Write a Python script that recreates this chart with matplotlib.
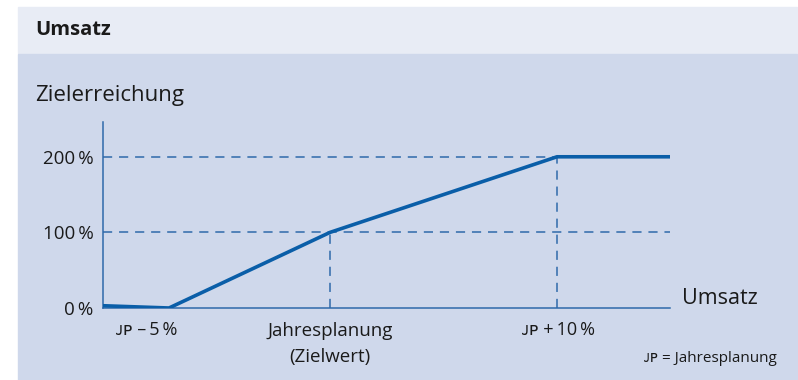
import matplotlib.pyplot as plt
from matplotlib.patches import Rectangle
import matplotlib.transforms as mtransforms

plt.rcParams['font.family'] = ['Open Sans', 'DejaVu Sans']

# Umsatz position (arbitrary units along the axis) and target achievement in %
umsatz = [0.0, 0.66, 2.27, 4.54, 5.67]
zielerreichung = [3, 0, 100, 200, 200]

ref_levels = [100, 200]
ref_x = [2.27, 4.54]
ytick_vals = [0, 100, 200]
ytick_labels = ['0\u2009%', '100\u2009%', '200\u2009%']
xtick_labels = ['\u1d0a\u1d18 \u2013\u20095\u2009%', 'Jahresplanung\n(Zielwert)',
                '\u1d0a\u1d18 +\u200910\u2009%']

line_col = '#0a5ea8'
dash_col = '#2f6aaa'
text_col = '#1a1a1a'

fig = plt.figure(figsize=(7.98, 3.8), dpi=100)
W, H = 798, 380

def fx(px):
    return px / W

def fy(py):
    return 1 - py / H

# background panels
fig.patches.append(Rectangle((fx(18), fy(53)), fx(797) - fx(18), fy(7) - fy(53),
                             transform=fig.transFigure, color='#e8ecf5', zorder=-10))
fig.patches.append(Rectangle((fx(18), 0), fx(797) - fx(18), fy(54),
                             transform=fig.transFigure, color='#cfd8eb', zorder=-10))

fig.text(fx(35), fy(30), 'Umsatz', fontsize=14.5, fontweight='bold', va='center', color=text_col)
fig.text(fx(35), fy(96), 'Zielerreichung', fontsize=16, va='center', color=text_col)

ax = fig.add_axes([fx(103), fy(308), fx(670) - fx(103), fy(122) - fy(308)])
ax.set_facecolor('none')
ax.set_xlim(0, 5.67)
ax.set_ylim(0, 246)

for lvl in ref_levels:
    ax.axhline(lvl, color=dash_col, lw=1.1, dashes=(6, 4.5), zorder=1)
for xv, lvl in zip(ref_x, ref_levels):
    ax.plot([xv, xv], [0, lvl], color=dash_col, lw=1.1, dashes=(6, 4.5), zorder=1)

ax.plot(umsatz, zielerreichung, color=line_col, lw=2.6, solid_capstyle='butt', zorder=3)

for s in ['top', 'right']:
    ax.spines[s].set_visible(False)
for s in ['left', 'bottom']:
    ax.spines[s].set_color(dash_col)
    ax.spines[s].set_linewidth(1.1)

ax.set_xticks([])
ax.set_yticks(ytick_vals)
ax.set_yticklabels(ytick_labels, fontsize=13.5, color=text_col)
ax.tick_params(axis='y', length=0, pad=7)

trans = mtransforms.blended_transform_factory(ax.transData, fig.transFigure)
ax.text(0.74, fy(330), xtick_labels[0], transform=trans, ha='right', va='center',
        fontsize=13, color=text_col)
ax.text(2.27, fy(344), xtick_labels[1], transform=trans, ha='center', va='center',
        fontsize=13.5, color=text_col, linespacing=1.6)
ax.text(4.55, fy(330), xtick_labels[2], transform=trans, ha='center', va='center',
        fontsize=13, color=text_col)

fig.text(fx(682), fy(299), 'Umsatz', fontsize=15.5, va='center', color=text_col)
fig.text(fx(777), fy(358), '\u1d0a\u1d18 = Jahresplanung', fontsize=11, ha='right',
         va='center', color=text_col)

fig.savefig('out.png', dpi=100)
